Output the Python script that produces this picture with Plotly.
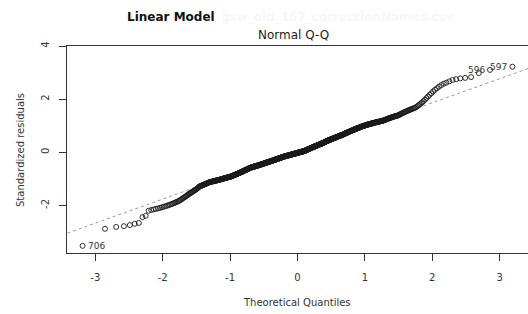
import numpy as np
import plotly.graph_objects as go
from statistics import NormalDist

# Sorted standardized residuals, lowest to highest
resid_low_tail = [-3.52, -2.88, -2.81, -2.78, -2.74, -2.69, -2.66, -2.44, -2.39, -2.20]
resid_a = [-2.17, -2.15, -2.13, -2.11, -2.09, -2.07, -2.05, -2.03, -2.01, -1.99, -1.97, -1.95, -1.93, -1.91, -1.89, -1.87]
resid_b = [-1.85, -1.83, -1.80, -1.78, -1.75, -1.72, -1.70, -1.67, -1.65, -1.62, -1.60, -1.57, -1.55]
resid_c = [-1.53, -1.51, -1.49, -1.47, -1.45, -1.43, -1.41, -1.39, -1.37, -1.35, -1.32, -1.30, -1.28]
resid_d = [-1.27, -1.26, -1.25, -1.24, -1.23, -1.22, -1.21, -1.20, -1.19, -1.18, -1.17, -1.16, -1.15, -1.14, -1.13, -1.12]
resid_e = [-1.12, -1.11, -1.11, -1.10, -1.10, -1.09, -1.09, -1.08, -1.08, -1.07,
           -1.07, -1.06, -1.06, -1.06, -1.05, -1.05, -1.04, -1.04, -1.03, -1.03,
           -1.02, -1.02, -1.01, -1.01, -1.00, -1.00, -0.99, -0.99, -0.98, -0.98,
           -0.97, -0.97, -0.96, -0.96, -0.96, -0.95, -0.95, -0.94, -0.94, -0.93,
           -0.93, -0.93, -0.92, -0.92]
resid_f = [-0.91, -0.91, -0.90, -0.90, -0.89, -0.88, -0.88, -0.87, -0.87, -0.86,
           -0.86, -0.85, -0.84, -0.84, -0.83, -0.83, -0.82, -0.81, -0.81, -0.80,
           -0.80, -0.79, -0.78, -0.78, -0.77, -0.77, -0.76, -0.76, -0.75, -0.74,
           -0.74, -0.73, -0.73, -0.72, -0.71, -0.71, -0.70, -0.70, -0.69, -0.68,
           -0.68, -0.67, -0.67, -0.66, -0.66, -0.65, -0.64, -0.64, -0.63, -0.63,
           -0.62, -0.61, -0.61, -0.60, -0.60, -0.59, -0.59, -0.58]
resid_g = [-0.58, -0.57, -0.57, -0.57, -0.56, -0.56, -0.56, -0.55, -0.55, -0.55,
           -0.54, -0.54, -0.54, -0.53, -0.53, -0.53, -0.52, -0.52, -0.52, -0.51,
           -0.51, -0.51, -0.50, -0.50, -0.50, -0.49, -0.49, -0.49, -0.48, -0.48,
           -0.48, -0.47, -0.47, -0.47, -0.46, -0.46, -0.46, -0.45, -0.45, -0.45,
           -0.44, -0.44, -0.44, -0.43, -0.43, -0.43, -0.42]
resid_h = [-0.42, -0.41, -0.41, -0.41, -0.40, -0.40, -0.40, -0.39, -0.39, -0.39,
           -0.38, -0.38, -0.38, -0.37, -0.37, -0.37, -0.36, -0.36, -0.36, -0.35,
           -0.35, -0.35, -0.34, -0.34, -0.34, -0.33, -0.33, -0.33, -0.32, -0.32,
           -0.32, -0.31, -0.31, -0.31, -0.30, -0.30, -0.30, -0.29, -0.29, -0.29,
           -0.28, -0.28, -0.28, -0.27, -0.27, -0.27, -0.26, -0.26, -0.26, -0.25,
           -0.25, -0.25, -0.24, -0.24, -0.24, -0.23, -0.23, -0.23, -0.22, -0.22,
           -0.22, -0.21, -0.21, -0.21, -0.20, -0.20, -0.20, -0.19, -0.19, -0.19,
           -0.18, -0.18, -0.18, -0.17, -0.17, -0.17, -0.16, -0.16]
resid_i = [-0.16, -0.16, -0.15, -0.15, -0.15, -0.15, -0.14, -0.14, -0.14, -0.14,
           -0.13, -0.13, -0.13, -0.13, -0.12, -0.12, -0.12, -0.12, -0.11, -0.11,
           -0.11, -0.11, -0.10, -0.10, -0.10, -0.10, -0.09, -0.09, -0.09, -0.09,
           -0.08, -0.08, -0.08, -0.08, -0.07, -0.07, -0.07, -0.07, -0.06, -0.06,
           -0.06, -0.06, -0.05, -0.05, -0.05, -0.05, -0.04, -0.04, -0.04, -0.04,
           -0.03, -0.03, -0.03, -0.03, -0.02, -0.02, -0.02, -0.02, -0.01, -0.01,
           -0.01, -0.01, 0.00, 0.00, 0.00, 0.00, 0.01, 0.01, 0.01, 0.01,
           0.02, 0.02, 0.02, 0.02, 0.03, 0.03, 0.03, 0.03, 0.03, 0.04,
           0.04, 0.04, 0.04]
resid_j = [0.05, 0.05, 0.06, 0.06, 0.07, 0.07, 0.07, 0.08, 0.08, 0.09,
           0.09, 0.10, 0.10, 0.10, 0.11, 0.11, 0.12, 0.12, 0.12, 0.13,
           0.13, 0.14, 0.14, 0.14, 0.15, 0.15, 0.16, 0.16, 0.16, 0.17,
           0.17, 0.18, 0.18, 0.18, 0.19, 0.19, 0.20, 0.20, 0.20, 0.21,
           0.21, 0.22, 0.22, 0.22, 0.23, 0.23, 0.24, 0.24, 0.24, 0.25,
           0.25, 0.26, 0.26, 0.26, 0.27, 0.27, 0.28, 0.28, 0.28, 0.29,
           0.29, 0.30, 0.30, 0.30, 0.31, 0.31, 0.32, 0.32, 0.32, 0.33,
           0.33, 0.34, 0.34, 0.34, 0.35, 0.35, 0.36, 0.36, 0.37, 0.37,
           0.38]
resid_k = [0.38, 0.39, 0.39, 0.40, 0.40, 0.41, 0.41, 0.42, 0.42, 0.42,
           0.43, 0.43, 0.44, 0.44, 0.45, 0.45, 0.45, 0.46, 0.46, 0.47,
           0.47, 0.48, 0.48, 0.48, 0.49, 0.49, 0.50, 0.50, 0.51, 0.51,
           0.51, 0.52, 0.52, 0.53, 0.53, 0.54, 0.54, 0.54, 0.55, 0.55,
           0.56, 0.56, 0.57, 0.57, 0.57, 0.58, 0.58, 0.59, 0.59, 0.60,
           0.60, 0.60, 0.61, 0.61, 0.62, 0.62, 0.63, 0.63, 0.63, 0.64,
           0.64, 0.65, 0.65, 0.66, 0.66, 0.66, 0.67, 0.67, 0.68, 0.68,
           0.69, 0.70]
resid_l = [0.70, 0.71, 0.71, 0.72, 0.72, 0.73, 0.73, 0.74, 0.75, 0.75,
           0.76, 0.76, 0.77, 0.77, 0.78, 0.78, 0.79, 0.79, 0.80, 0.80,
           0.81, 0.82, 0.82, 0.83, 0.83, 0.84, 0.84, 0.85, 0.85, 0.86,
           0.86, 0.87, 0.87, 0.88, 0.89, 0.89, 0.90, 0.90, 0.91, 0.91,
           0.92, 0.92, 0.93, 0.93, 0.94, 0.94, 0.95, 0.96, 0.96, 0.97,
           0.97, 0.98, 0.98, 0.99, 0.99, 1.00, 1.00, 1.01]
resid_m = [1.01, 1.02, 1.02, 1.03, 1.03, 1.04, 1.04, 1.05, 1.05, 1.05,
           1.06, 1.06, 1.07, 1.07, 1.08, 1.08, 1.09, 1.09, 1.09, 1.10,
           1.10, 1.11, 1.11, 1.12, 1.12, 1.13, 1.13, 1.14, 1.14, 1.14,
           1.15, 1.15, 1.16, 1.16, 1.17, 1.17, 1.18, 1.18, 1.18, 1.19]
resid_n = [1.20, 1.21, 1.22, 1.22, 1.23, 1.24, 1.25, 1.26, 1.27, 1.27,
           1.28, 1.29, 1.30, 1.31, 1.32, 1.32, 1.33, 1.34, 1.35, 1.36,
           1.37, 1.37, 1.38, 1.39, 1.40]
resid_o = [1.42, 1.43, 1.45, 1.46, 1.48, 1.49, 1.51, 1.52, 1.54, 1.55,
           1.57, 1.58, 1.60, 1.61, 1.63, 1.64, 1.66]
resid_high_tail = [1.67, 1.70, 1.73, 1.76, 1.80, 1.84, 1.88, 1.93, 1.98, 2.04,
                   2.10, 2.16, 2.22, 2.29, 2.35, 2.41, 2.47, 2.53, 2.58, 2.62,
                   2.67, 2.72, 2.75, 2.78, 2.80, 2.83, 2.98, 3.10, 3.22]

# Labelled extreme observations: (observation id, rank position in sorted residuals)
label_ids = ["706", "596", "597"]
label_ranks = [1, 699, 700]

x_ticks = [-3, -2, -1, 0, 1, 2, 3]
y_ticks = [-2, 0, 2, 4]

resid = np.sort(np.array(resid_low_tail + resid_a + resid_b + resid_c + resid_d + resid_e + resid_f
                         + resid_g + resid_h + resid_i + resid_j + resid_k + resid_l + resid_m
                         + resid_n + resid_o + resid_high_tail))
n = len(resid)
nd = NormalDist()
theo = np.array([nd.inv_cdf((i - 0.5) / n) for i in range(1, n + 1)])

# qqline through the quartiles
q_y = np.quantile(resid, [0.25, 0.75])
q_x = np.array([nd.inv_cdf(0.25), nd.inv_cdf(0.75)])
slope = (q_y[1] - q_y[0]) / (q_x[1] - q_x[0])
intercept = q_y[0] - slope * q_x[0]
line_x = np.array([-4.0, 4.0])
line_y = intercept + slope * line_x

FONT = "DejaVu Sans"
fig = go.Figure()
fig.add_trace(go.Scatter(x=line_x, y=line_y, mode="lines",
                         line=dict(color="#9a9a9a", width=1, dash="dot"),
                         hoverinfo="skip", showlegend=False))
fig.add_trace(go.Scatter(x=theo, y=resid, mode="markers",
                         marker=dict(symbol="circle-open", size=5, color="#1a1a1a",
                                     line=dict(width=0.9, color="#1a1a1a")),
                         showlegend=False))

annotations = []
for lab, r in zip(label_ids, label_ranks):
    xv, yv = theo[r - 1], resid[r - 1]
    left = xv < 0
    annotations.append(dict(x=xv, y=yv, xref="x", yref="y", text=lab, showarrow=False,
                            xanchor="left" if left else "right",
                            xshift=3 if left else -3, yshift=0,
                            font=dict(family=FONT, size=9, color="#333")))

W_PLOT, H_PLOT, L, B = 461, 207, 67, 61
def px(xp):
    return (xp - L) / W_PLOT
def py(yp):
    return (314 - B - yp) / H_PLOT

annotations += [
    dict(x=px(125), y=py(17), xref="paper", yref="paper", text="<b>Linear Model</b>",
         showarrow=False, xanchor="left", yanchor="middle",
         font=dict(family=FONT, size=12, color="#111")),
    dict(x=px(219), y=py(17), xref="paper", yref="paper", text="<b>gsw_old_167_correctionNames.csv</b>",
         showarrow=False, xanchor="left", yanchor="middle",
         font=dict(family=FONT, size=12, color="#f7f7f7")),
    dict(x=px(293), y=py(35), xref="paper", yref="paper", text="Normal Q-Q",
         showarrow=False, xanchor="center", yanchor="middle",
         font=dict(family=FONT, size=12, color="#222")),
    dict(x=px(297), y=py(302), xref="paper", yref="paper", text="Theoretical Quantiles",
         showarrow=False, xanchor="center", yanchor="middle",
         font=dict(family=FONT, size=10, color="#333")),
    dict(x=px(20), y=py(150), xref="paper", yref="paper", text="Standardized residuals",
         showarrow=False, xanchor="center", yanchor="middle", textangle=-90,
         font=dict(family=FONT, size=10, color="#333")),
]

axis_common = dict(showgrid=False, zeroline=False, showline=True, mirror=True,
                   linecolor="#333", linewidth=1, ticks="outside", ticklen=7,
                   tickcolor="#333", tickwidth=1, automargin=False,
                   tickfont=dict(family=FONT, size=10, color="#333"))
fig.update_layout(
    width=528, height=314,
    margin=dict(l=L, r=0, t=46, b=B, autoexpand=False),
    paper_bgcolor="white", plot_bgcolor="white",
    xaxis=dict(range=[-3.42, 3.42], tickvals=x_ticks, ticktext=[str(v) for v in x_ticks],
               ticklabelstandoff=8, **axis_common),
    yaxis=dict(range=[-3.79, 4.0], tickvals=y_ticks, ticktext=[str(v) for v in y_ticks],
               tickangle=-90, ticklabelstandoff=6, **axis_common),
    annotations=annotations,
    showlegend=False,
)
fig.write_html("out.html", config={"displayModeBar": False},
               post_script="document.body.style.margin='0';document.body.style.overflow='hidden';")
